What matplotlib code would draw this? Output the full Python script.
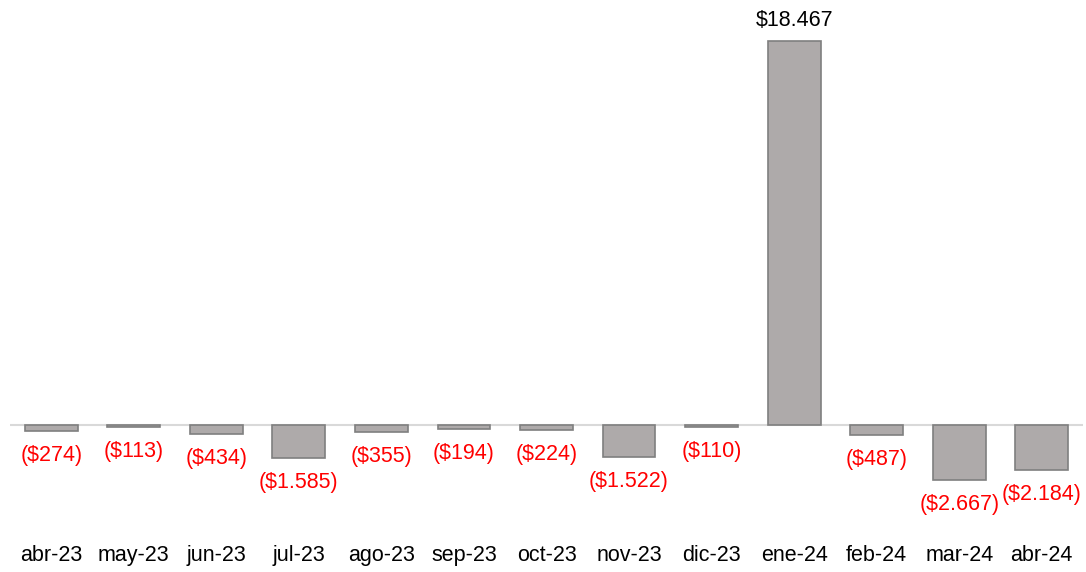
import matplotlib.pyplot as plt

meses = ['abr-23', 'may-23', 'jun-23', 'jul-23', 'ago-23', 'sep-23', 'oct-23',
         'nov-23', 'dic-23', 'ene-24', 'feb-24', 'mar-24', 'abr-24']
valores = [-274, -113, -434, -1585, -355, -194, -224, -1522, -110, 18467, -487, -2667, -2184]
etiquetas = ['($274)', '($113)', '($434)', '($1.585)', '($355)', '($194)', '($224)',
             '($1.522)', '($110)', '$18.467', '($487)', '($2.667)', '($2.184)']

plt.rcParams['font.family'] = ['Liberation Sans', 'DejaVu Sans']

fig = plt.figure(figsize=(10.86, 5.72), dpi=100)
ax = fig.add_axes([10 / 1086, 52 / 572, 1073 / 1086, 500 / 572])

x = list(range(len(meses)))
ax.bar(x, valores, width=0.64, color='#AEAAAA', edgecolor='#7F7F7F', linewidth=1.2, zorder=2)
ax.axhline(0, color='#D9D9D9', linewidth=1.5, zorder=1)

# etiquetas de datos: afuera del extremo de cada barra
for xi, v, et in zip(x, valores, etiquetas):
    if v >= 0:
        ax.annotate(et, (xi, v), xytext=(0, 7), textcoords='offset points',
                    ha='center', va='bottom', fontsize=15.5, color='black')
    else:
        ax.annotate(et, (xi, v), xytext=(0, -10), textcoords='offset points',
                    ha='center', va='top', fontsize=15.5, color='#FF0000')

ax.set_xlim(-0.5, len(meses) - 0.5)
ax.set_ylim(-4570, 19480)
ax.set_xticks(x)
ax.set_xticklabels(meses, fontsize=15.5)
ax.tick_params(axis='x', length=0, pad=18)
ax.set_yticks([])
for s in ax.spines.values():
    s.set_visible(False)

fig.savefig('out.png', dpi=100)
